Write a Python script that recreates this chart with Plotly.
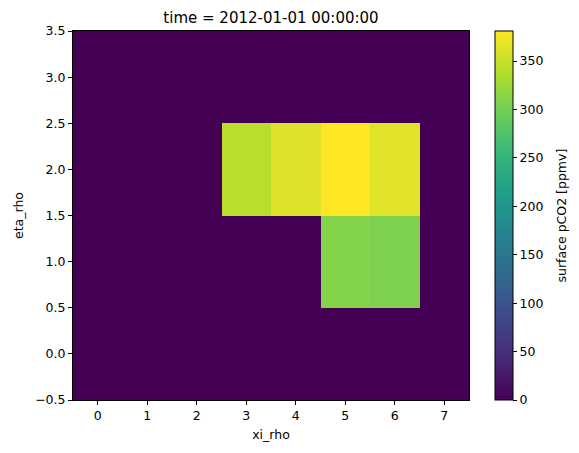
import plotly.graph_objects as go

xi_rho = [0, 1, 2, 3, 4, 5, 6, 7]
eta_rho = [0, 1, 2, 3]
pco2_row0 = [0, 0, 0, 0, 0, 0, 0, 0]
pco2_row1 = [0, 0, 0, 0, 0, 309, 305, 0]
pco2_row2 = [0, 0, 0, 341, 362, 381, 364, 0]
pco2_row3 = [0, 0, 0, 0, 0, 0, 0, 0]
cbar_ticks = [0, 50, 100, 150, 200, 250, 300, 350]

z = [pco2_row0, pco2_row1, pco2_row2, pco2_row3]

OFF = 8  # default page body margin
L, R, T, B = 73 - OFF, 469 - OFF, 31 - OFF, 400 - OFF
W, H = 579 - OFF, 453 - OFF
font = dict(family="DejaVu Sans", size=12.5, color="black")

fig = go.Figure(go.Heatmap(
    x=xi_rho, y=eta_rho, z=z,
    colorscale="Viridis", zmin=0, zmax=381,
    colorbar=dict(
        x=(495 - OFF - L) / (R - L), xanchor="left", xpad=0,
        y=0.5, yanchor="middle", len=1, lenmode="fraction", ypad=0,
        thickness=18, outlinewidth=1, outlinecolor="black",
        ticks="outside", ticklen=4, tickcolor="black",
        tickvals=cbar_ticks, tickfont=font,
    ),
))

fig.add_annotation(
    text="surface pCO2 [ppmv]", textangle=-90, showarrow=False,
    xref="paper", yref="paper",
    x=(561 - OFF - L) / (R - L), y=0.5, xanchor="center", yanchor="middle",
    font=font,
)

axis_common = dict(
    showgrid=False, zeroline=False, showline=True, linecolor="black",
    linewidth=1, mirror=True, ticks="outside", ticklen=4, tickcolor="black",
    tickfont=font,
)
fig.update_layout(
    width=W, height=H,
    margin=dict(l=L, r=W - R, t=T, b=H - B, autoexpand=False),
    plot_bgcolor="white", paper_bgcolor="white",
    font=font,
    title=dict(text="time = 2012-01-01 00:00:00", x=(L + R) / 2 / W, xanchor="center",
               y=1 - 10 / H, yanchor="middle", font=dict(family="DejaVu Sans", size=15, color="black")),
    xaxis=dict(axis_common, range=[-0.5, 7.5], tickvals=xi_rho, automargin=False,
               title=dict(text="xi_rho", font=font, standoff=8)),
    yaxis=dict(axis_common, range=[-0.5, 3.5], dtick=0.5, tick0=-0.5, tickformat=".1f", automargin=False,
               title=dict(text="eta_rho", font=font, standoff=8)),
)
fig.write_html("out.html")
